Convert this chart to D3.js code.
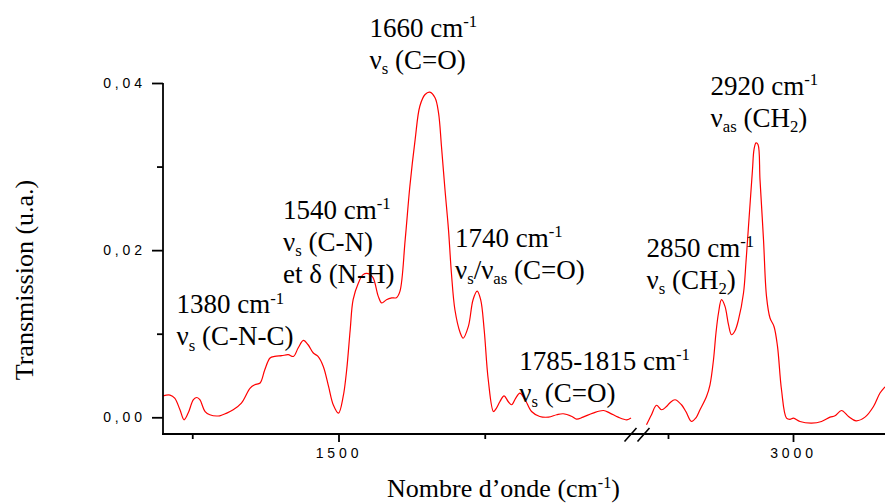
<!DOCTYPE html>
<html><head><meta charset="utf-8">
<script src="https://cdn.jsdelivr.net/npm/d3@7"></script>
<style>
html,body{margin:0;padding:0;background:#fff;}
svg{display:block;}
</style></head>
<body>
<svg id="c" width="885" height="504"></svg>
<script>
// ---- data ----
const leftWave = [1200,1212,1220,1229,1236,1243,1252,1258,1263,1272,1280,1297,1309,1320,1334,1349,1357,1366,1374,1383,1391,1403,1414,1423,1431,1440,1448,1457,1465,1474,1483,1491,1500,1508,1514,1520,1525,1534,1542,1551,1559,1568,1574,1582,1591,1599,1605,1614,1622,1631,1639,1648,1656,1665,1671,1676,1682,1688,1693,1699,1708,1713,1722,1730,1737,1743,1749,1756,1765,1770,1776,1783,1790,1796,1803,1810,1819,1830,1844,1859,1873,1884,1899,1907,1918,1935,1953,1964,1978,1993,2000];
const leftTrans = [0.00257,0.00266,0.00230,0.00090,-0.00030,0.00050,0.00210,0.00237,0.00210,0.00069,0.00030,0.00018,0.00050,0.00090,0.00170,0.00350,0.00389,0.00410,0.00569,0.00709,0.00728,0.00737,0.00749,0.00728,0.00829,0.00920,0.00868,0.00769,0.00728,0.00608,0.00369,0.00150,0.00050,0.00249,0.00569,0.01048,0.01407,0.01607,0.01707,0.01719,0.01671,0.01447,0.01368,0.01407,0.01428,0.01431,0.01507,0.02126,0.02764,0.03323,0.03722,0.03862,0.03890,0.03823,0.03643,0.03243,0.02725,0.02246,0.01727,0.01287,0.01012,0.00946,0.01087,0.01407,0.01509,0.01407,0.01048,0.00449,0.00069,0.00110,0.00189,0.00257,0.00189,0.00150,0.00230,0.00290,0.00210,0.00069,0.00010,0.00002,0.00030,0.00042,0.00010,-0.00022,0.00002,0.00050,0.00081,0.00050,0.00002,-0.00030,-0.00010];
const rightWave = [2707,2717,2727,2737,2747,2754,2764,2777,2786,2797,2806,2814,2827,2834,2841,2846,2851,2857,2864,2871,2877,2884,2891,2901,2906,2911,2919,2922,2926,2930,2934,2941,2947,2954,2962,2969,2977,2987,2994,3001,3014,3037,3057,3074,3084,3097,3111,3126,3144,3161,3174,3184];
const rightTrans = [-0.00090,0.00030,0.00144,0.00090,0.00129,0.00174,0.00210,0.00150,0.00066,-0.00050,-0.00006,0.00090,0.00249,0.00389,0.00689,0.01012,0.01248,0.01407,0.01327,0.01108,0.00988,0.01036,0.01168,0.01487,0.01862,0.02285,0.02964,0.03204,0.03284,0.03263,0.02844,0.02126,0.01447,0.01188,0.01087,0.00848,0.00329,-0.00010,-0.00024,-0.00010,-0.00050,-0.00069,-0.00050,0.00002,0.00018,0.00081,0.00010,-0.00042,0.00002,0.00129,0.00290,0.00365];

const yMajorTicks = [0, 0.02, 0.04];
const yMinorTicks = [0.01, 0.03];
const xLeftMajor = [1500], xLeftMinor = [1250, 1750];
const xRightMajor = [3000], xRightMinor = [2750];

const xTitle = "Nombre d\u2019onde (cm^{-1})";
const yTitle = "Transmission (u.a.)";

// annotations: anchor in data space (segment, wavenumber, transmission), lines of text
const annotSeg  = ["L","L","L","L","L","R","R"];
const annotWave = [1223, 1405, 1553, 1699, 1809, 2707, 2835];
const annotVal  = [0.01244, 0.02373, 0.04550, 0.02041, 0.00566, 0.01922, 0.03856];
const annotText = [
  ["1380 cm^{-1}", "\u03BD_{s} (C-N-C)"],
  ["1540 cm^{-1}", "\u03BD_{s} (C-N)", "et \u03B4 (N-H)"],
  ["1660 cm^{-1}", "\u03BD_{s} (C=O)"],
  ["1740 cm^{-1}", "\u03BD_{s}/\u03BD_{as} (C=O)"],
  ["1785-1815 cm^{-1}", "\u03BD_{s} (C=O)"],
  ["2850 cm^{-1}", "\u03BD_{s} (CH_{2})"],
  ["2920 cm^{-1}", "\u03BD_{as} (CH_{2})"]
];

// ---- chart ----
const svg = d3.select("#c");
const xL = d3.scaleLinear().domain([1200, 2000]).range([163, 631]);
const xR = d3.scaleLinear().domain([2700, 3200]).range([643, 893]);
const y  = d3.scaleLinear().domain([-0.002, 0.04]).range([434, 83]);
const axisY = 434, W = 885;

const line = (xs) => d3.line().x(d => xs(d[0])).y(d => y(d[1])).curve(d3.curveCatmullRom.alpha(0.5));

svg.append("path").datum(d3.zip(leftWave, leftTrans))
  .attr("d", line(xL)).attr("fill","none").attr("stroke","#ff0000").attr("stroke-width",1.2);
svg.append("path").datum(d3.zip(rightWave, rightTrans))
  .attr("d", line(xR)).attr("fill","none").attr("stroke","#ff0000").attr("stroke-width",1.2);

const tickFont = "'Liberation Sans', Arial, sans-serif";
function styleAxis(g){
  g.select(".domain").remove();
  g.selectAll(".tick line").attr("stroke","#000").attr("stroke-width",1.8);
  g.selectAll(".tick text").attr("font-family",tickFont).attr("font-size",14)
    .attr("letter-spacing","3.9px").attr("fill","#000");
}

// Y axis
const gy = svg.append("g").attr("transform","translate(163,0)")
  .call(d3.axisLeft(y).tickValues(yMajorTicks).tickSize(11).tickPadding(6)
    .tickFormat(d => d3.format(".2f")(d).replace(".", ",")));
styleAxis(gy);
const gym = svg.append("g").attr("transform","translate(163,0)")
  .call(d3.axisLeft(y).tickValues(yMinorTicks).tickSize(6).tickFormat(""));
styleAxis(gym);
svg.append("line").attr("x1",163).attr("x2",163).attr("y1",y(0.04)).attr("y2",axisY+0.9)
  .attr("stroke","#000").attr("stroke-width",1.8);

// X axes
function xAxis(scale, major, minor){
  const g = svg.append("g").attr("transform",`translate(0,${axisY})`)
    .call(d3.axisBottom(scale).tickValues(major).tickSize(8).tickPadding(6).tickFormat(d3.format("d")));
  styleAxis(g);
  const gm = svg.append("g").attr("transform",`translate(0,${axisY})`)
    .call(d3.axisBottom(scale).tickValues(minor).tickSize(5).tickFormat(""));
  styleAxis(gm);
}
xAxis(xL, xLeftMajor, xLeftMinor);
xAxis(xR, xRightMajor, xRightMinor);
svg.append("line").attr("x1",162.1).attr("x2",W).attr("y1",axisY).attr("y2",axisY)
  .attr("stroke","#000").attr("stroke-width",1.8);

// break marks
const bx = (xL.range()[1] + xR.range()[0]) / 2;
[-6.5, 6.5].forEach(off => {
  svg.append("line").attr("x1",bx+off-6).attr("y1",axisY+7.5).attr("x2",bx+off+6).attr("y2",axisY-6)
    .attr("stroke","#000").attr("stroke-width",1.6);
});

// rich text helper: ^{..} superscript, _{..} subscript
const serif = "'Liberation Serif', 'Times New Roman', serif";
function rich(textEl, str, size){
  const re = /(\^\{[^}]*\}|_\{[^}]*\})/g;
  const parts = str.split(re).filter(s => s.length);
  let shift = 0;
  parts.forEach(p => {
    let t = p, dy = 0, fs = size;
    if (p.startsWith("^{")) { t = p.slice(2,-1); dy = -0.36*size; fs = 0.62*size; }
    else if (p.startsWith("_{")) { t = p.slice(2,-1); dy = 0.2*size; fs = 0.62*size; }
    const ts = textEl.append("tspan").attr("font-size", fs).text(t);
    const need = dy - shift;
    if (need !== 0) ts.attr("dy", need);
    shift = dy;
  });
  if (shift !== 0) textEl.append("tspan").attr("dy", -shift).text("");
}

// annotations
const annSize = 27, lineH = 32;
annotText.forEach((lines, i) => {
  const sx = annotSeg[i] === "L" ? xL : xR;
  const x0 = sx(annotWave[i]), y0 = y(annotVal[i]);
  lines.forEach((ln, j) => {
    const t = svg.append("text").attr("x", x0).attr("y", y0 + j*lineH)
      .attr("font-family", serif).attr("font-size", annSize).attr("fill","#000");
    rich(t, ln, annSize);
  });
});

// axis titles
const xt = svg.append("text").attr("x", 387).attr("y", 497)
  .attr("font-family", serif).attr("font-size", 26).attr("fill","#000");
rich(xt, xTitle, 26);
svg.append("text").attr("transform","translate(33,280) rotate(-90)").attr("text-anchor","middle")
  .attr("font-family", serif).attr("font-size", 26).attr("fill","#000").text(yTitle);
</script>
</body></html>
